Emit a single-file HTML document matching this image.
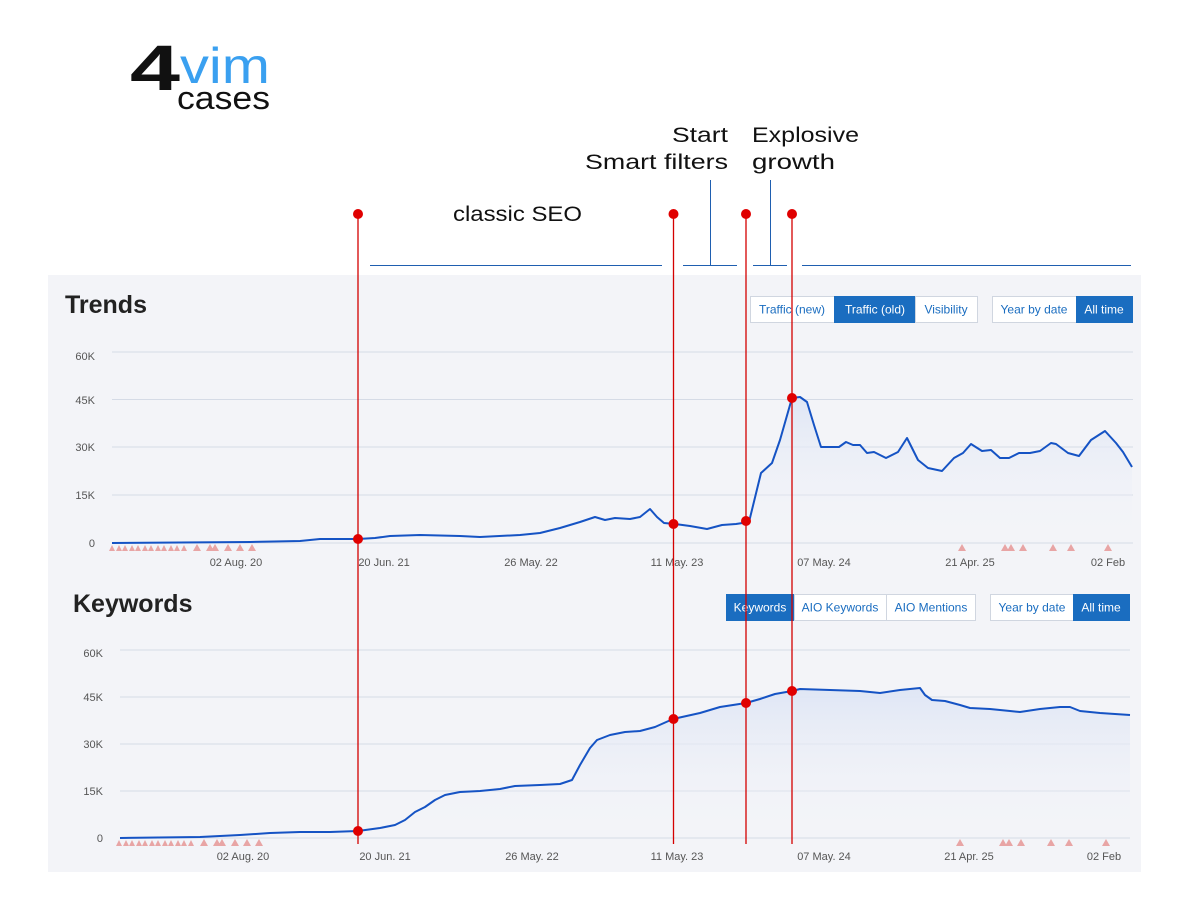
<!DOCTYPE html>
<html><head><meta charset="utf-8"><style>
body{margin:0;background:#fff;width:1200px;height:918px;overflow:hidden}
svg text{font-family:"Liberation Sans",sans-serif}
</style></head><body>
<svg width="1200" height="918" viewBox="0 0 1200 918" xmlns="http://www.w3.org/2000/svg">
<defs>
<linearGradient id="g" x1="0" y1="0" x2="0" y2="1"><stop offset="0" stop-color="#dfe6f5"/><stop offset="1" stop-color="#f3f4f8" stop-opacity="0"/></linearGradient>
</defs>
<!-- logo -->
<text x="130" y="90" font-size="64" fill="#111" textLength="50" lengthAdjust="spacingAndGlyphs" style="font-weight:bold">4</text>
<text x="180" y="83" font-size="50" fill="#3aa0f0" textLength="90" lengthAdjust="spacingAndGlyphs">vim</text>
<text x="177" y="109" font-size="32" fill="#111" textLength="93" lengthAdjust="spacingAndGlyphs">cases</text>
<!-- annotations -->
<g font-size="21" fill="#111">
<text x="453" y="221" textLength="129" lengthAdjust="spacingAndGlyphs">classic SEO</text>
<text x="672" y="142" textLength="56" lengthAdjust="spacingAndGlyphs">Start</text>
<text x="585" y="169" textLength="143" lengthAdjust="spacingAndGlyphs">Smart filters</text>
<text x="752" y="142" textLength="107" lengthAdjust="spacingAndGlyphs">Explosive</text>
<text x="752" y="169" textLength="83" lengthAdjust="spacingAndGlyphs">growth</text>
</g>
<g stroke="#1f5fb0" stroke-width="1">
<line x1="370" y1="265.5" x2="662" y2="265.5"/><line x1="683" y1="265.5" x2="737" y2="265.5"/>
<line x1="753" y1="265.5" x2="787" y2="265.5"/><line x1="802" y1="265.5" x2="1131" y2="265.5"/>
<line x1="710.5" y1="180" x2="710.5" y2="265"/><line x1="770.5" y1="180" x2="770.5" y2="265"/>
</g>
<!-- panel -->
<rect x="48" y="275" width="1093" height="597" fill="#f3f4f8"/>
<text x="65" y="313" font-size="25" font-weight="bold" fill="#222">Trends</text>
<text x="73" y="612" font-size="25" font-weight="bold" fill="#222">Keywords</text>
<g font-size="12">
<rect x="750.5" y="296.5" width="84" height="26" fill="#fff" stroke="#d0d6e0"/><text x="792" y="313.5" text-anchor="middle" fill="#1a6dc0">Traffic (new)</text>
<rect x="834" y="296" width="81" height="27" fill="#1a6dc0"/><text x="875" y="313.5" text-anchor="middle" fill="#fff">Traffic (old)</text>
<rect x="915.5" y="296.5" width="62" height="26" fill="#fff" stroke="#d0d6e0"/><text x="946" y="313.5" text-anchor="middle" fill="#1a6dc0">Visibility</text>
<rect x="992.5" y="296.5" width="84" height="26" fill="#fff" stroke="#d0d6e0"/><text x="1034" y="313.5" text-anchor="middle" fill="#1a6dc0">Year by date</text>
<rect x="1076" y="296" width="57" height="27" fill="#1a6dc0"/><text x="1104" y="313.5" text-anchor="middle" fill="#fff">All time</text>
<rect x="726" y="594" width="68" height="27" fill="#1a6dc0"/><text x="760" y="611.5" text-anchor="middle" fill="#fff">Keywords</text>
<rect x="794.5" y="594.5" width="92" height="26" fill="#fff" stroke="#d0d6e0"/><text x="840" y="611.5" text-anchor="middle" fill="#1a6dc0">AIO Keywords</text>
<rect x="886.5" y="594.5" width="89" height="26" fill="#fff" stroke="#d0d6e0"/><text x="931" y="611.5" text-anchor="middle" fill="#1a6dc0">AIO Mentions</text>
<rect x="990.5" y="594.5" width="83" height="26" fill="#fff" stroke="#d0d6e0"/><text x="1032" y="611.5" text-anchor="middle" fill="#1a6dc0">Year by date</text>
<rect x="1073" y="594" width="57" height="27" fill="#1a6dc0"/><text x="1101" y="611.5" text-anchor="middle" fill="#fff">All time</text>
</g>
<g stroke="#d5dbe6" stroke-width="1">
<line x1="112" y1="352" x2="1133" y2="352"/><line x1="112" y1="399.5" x2="1133" y2="399.5"/><line x1="112" y1="447" x2="1133" y2="447"/><line x1="112" y1="495" x2="1133" y2="495"/><line x1="112" y1="543" x2="1133" y2="543"/>
<line x1="120" y1="650" x2="1130" y2="650"/><line x1="120" y1="697" x2="1130" y2="697"/><line x1="120" y1="744" x2="1130" y2="744"/><line x1="120" y1="791" x2="1130" y2="791"/><line x1="120" y1="838" x2="1130" y2="838"/>
</g>
<g font-size="11" fill="#555" text-anchor="end">
<text x="95" y="360">60K</text><text x="95" y="404">45K</text><text x="95" y="451">30K</text><text x="95" y="499">15K</text><text x="95" y="547">0</text>
<text x="103" y="657">60K</text><text x="103" y="701">45K</text><text x="103" y="748">30K</text><text x="103" y="795">15K</text><text x="103" y="842">0</text>
</g>
<g font-size="11" fill="#555" text-anchor="middle">
<text x="236" y="566">02 Aug. 20</text><text x="384" y="566">20 Jun. 21</text><text x="531" y="566">26 May. 22</text><text x="677" y="566">11 May. 23</text><text x="824" y="566">07 May. 24</text><text x="970" y="566">21 Apr. 25</text><text x="1108" y="566">02 Feb</text>
<text x="243" y="860">02 Aug. 20</text><text x="385" y="860">20 Jun. 21</text><text x="532" y="860">26 May. 22</text><text x="677" y="860">11 May. 23</text><text x="824" y="860">07 May. 24</text><text x="969" y="860">21 Apr. 25</text><text x="1104" y="860">02 Feb</text>
</g>
<path d="M112,543 L250,542 300,541 320,539 358,539 375,538 390,536 420,535 460,536 480,537 520,535 540,533 560,528 580,522 595,517 605,520 615,518 630,519 640,517 650,509 657,517 664,523 675,524 690,526 707,529 722,525 736,524 749,522 761,473 772,463 780,440 792,398 800,397 807,402 814,425 821,447 830,447 839,447 846,442 853,445 860,445 867,453 874,452 886,458 898,452 907,438 918,460 928,468 942,471 954,458 963,453 971,444 982,451 991,450 1000,458 1009,458 1019,453 1030,453 1040,451 1051,443 1056,444 1068,453 1079,456 1091,440 1105,431 1116,443 1123,452 1132,467 L1132,543 L112,543Z" fill="url(#g)"/>
<path d="M112,543 L250,542 300,541 320,539 358,539 375,538 390,536 420,535 460,536 480,537 520,535 540,533 560,528 580,522 595,517 605,520 615,518 630,519 640,517 650,509 657,517 664,523 675,524 690,526 707,529 722,525 736,524 749,522 761,473 772,463 780,440 792,398 800,397 807,402 814,425 821,447 830,447 839,447 846,442 853,445 860,445 867,453 874,452 886,458 898,452 907,438 918,460 928,468 942,471 954,458 963,453 971,444 982,451 991,450 1000,458 1009,458 1019,453 1030,453 1040,451 1051,443 1056,444 1068,453 1079,456 1091,440 1105,431 1116,443 1123,452 1132,467" fill="none" stroke="#1553c4" stroke-width="2" stroke-linejoin="round"/>
<path d="M120,838 L200,837 240,835 270,833 300,832 330,832 358,831 380,828 395,825 405,820 415,812 425,807 435,800 445,795 460,792 480,791 500,789 515,786 540,785 560,784 572,780 580,765 590,748 597,740 610,735 625,732 640,731 655,727 673,719 700,713 720,707 746,703 760,699 775,694 792,691 800,689 830,690 860,691 880,693 900,690 920,688 925,695 932,700 945,701 960,705 970,708 990,709 1010,711 1020,712 1040,709 1060,707 1070,707 1080,711 1100,713 1130,715 L1130,838Z" fill="url(#g)"/>
<path d="M120,838 L200,837 240,835 270,833 300,832 330,832 358,831 380,828 395,825 405,820 415,812 425,807 435,800 445,795 460,792 480,791 500,789 515,786 540,785 560,784 572,780 580,765 590,748 597,740 610,735 625,732 640,731 655,727 673,719 700,713 720,707 746,703 760,699 775,694 792,691 800,689 830,690 860,691 880,693 900,690 920,688 925,695 932,700 945,701 960,705 970,708 990,709 1010,711 1020,712 1040,709 1060,707 1070,707 1080,711 1100,713 1130,715" fill="none" stroke="#1553c4" stroke-width="2" stroke-linejoin="round"/>
<g fill="#e8a5a5">
<path d="M109,551l3,-6l3,6zM116,551l3,-6l3,6zM122,551l3,-6l3,6zM129,551l3,-6l3,6zM135,551l3,-6l3,6zM142,551l3,-6l3,6zM148,551l3,-6l3,6zM155,551l3,-6l3,6zM161,551l3,-6l3,6zM168,551l3,-6l3,6zM174,551l3,-6l3,6zM181,551l3,-6l3,6zM193,551l4,-7l4,7zM206,551l4,-7l4,7zM211,551l4,-7l4,7zM224,551l4,-7l4,7zM236,551l4,-7l4,7zM248,551l4,-7l4,7zM958,551l4,-7l4,7zM1001,551l4,-7l4,7zM1007,551l4,-7l4,7zM1019,551l4,-7l4,7zM1049,551l4,-7l4,7zM1067,551l4,-7l4,7zM1104,551l4,-7l4,7z"/>
<path transform="translate(7,295)" d="M109,551l3,-6l3,6zM116,551l3,-6l3,6zM122,551l3,-6l3,6zM129,551l3,-6l3,6zM135,551l3,-6l3,6zM142,551l3,-6l3,6zM148,551l3,-6l3,6zM155,551l3,-6l3,6zM161,551l3,-6l3,6zM168,551l3,-6l3,6zM174,551l3,-6l3,6zM181,551l3,-6l3,6zM193,551l4,-7l4,7zM206,551l4,-7l4,7zM211,551l4,-7l4,7zM224,551l4,-7l4,7zM236,551l4,-7l4,7zM248,551l4,-7l4,7z"/>
<path transform="translate(-2,295)" d="M958,551l4,-7l4,7zM1001,551l4,-7l4,7zM1007,551l4,-7l4,7zM1019,551l4,-7l4,7zM1049,551l4,-7l4,7zM1067,551l4,-7l4,7zM1104,551l4,-7l4,7z"/>
</g>
<g stroke="#d40000" stroke-width="1.3">
<line x1="358" y1="214" x2="358" y2="844"/><line x1="673.5" y1="214" x2="673.5" y2="844"/><line x1="746" y1="214" x2="746" y2="844"/><line x1="792" y1="214" x2="792" y2="844"/>
</g>
<g fill="#e00000">
<circle cx="358" cy="214" r="5"/><circle cx="673.5" cy="214" r="5"/><circle cx="746" cy="214" r="5"/><circle cx="792" cy="214" r="5"/>
<circle cx="358" cy="539" r="5"/><circle cx="673.5" cy="524" r="5"/><circle cx="746" cy="521" r="5"/><circle cx="792" cy="398" r="5"/>
<circle cx="358" cy="831" r="5"/><circle cx="673.5" cy="719" r="5"/><circle cx="746" cy="703" r="5"/><circle cx="792" cy="691" r="5"/>
</g>
</svg>
</body></html>
